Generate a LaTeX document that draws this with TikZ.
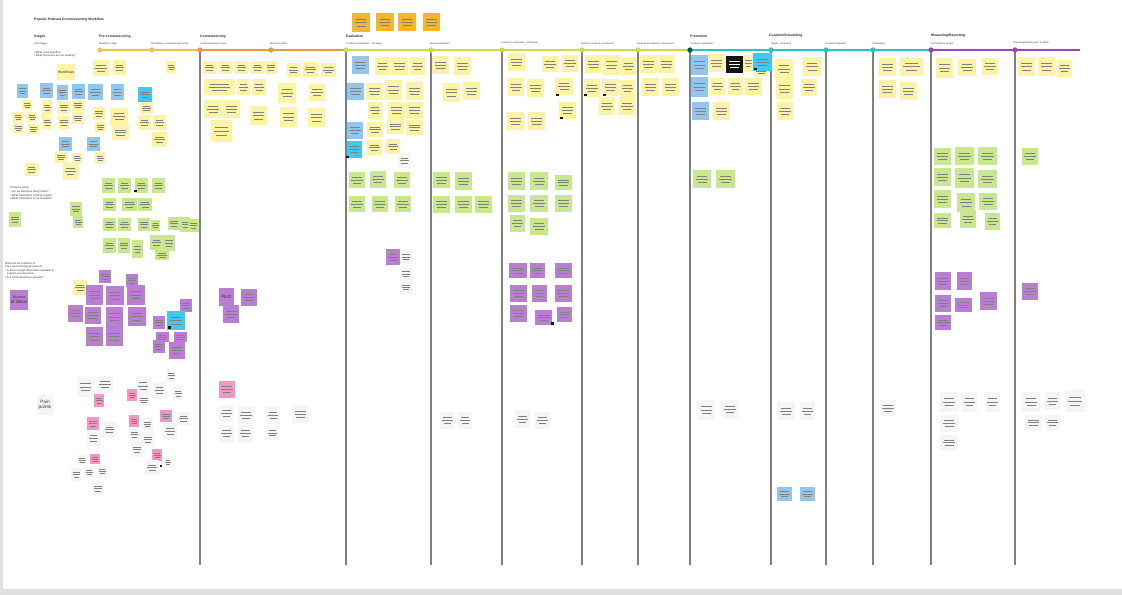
\documentclass[tikz,border=0pt]{standalone}
\usepackage{fontspec}
\setmainfont{Liberation Sans}
\usetikzlibrary{shadows}
\definecolor{yel}{HTML}{FCF3A6}
\definecolor{grn}{HTML}{C9E78E}
\definecolor{blu}{HTML}{93C6EE}
\definecolor{cyn}{HTML}{3FC8F0}
\definecolor{pur}{HTML}{B97ED2}
\definecolor{pnk}{HTML}{F197C2}
\definecolor{wht}{HTML}{F5F5F5}
\definecolor{org}{HTML}{F6B52E}
\definecolor{blk}{HTML}{141414}
\definecolor{lpre}{HTML}{F3BF45}
\definecolor{lcom}{HTML}{EF9440}
\definecolor{leva}{HTML}{CADB4E}
\definecolor{lpro}{HTML}{2CC2C9}
\definecolor{lmea}{HTML}{A53FB5}
\tikzset{
  shd/.style={drop shadow={opacity=0.25,shadow xshift=0.15pt,shadow yshift=-0.4pt}},
  scrib/.style={line width=0.4pt},
  lbl/.style={inner sep=0pt,anchor=base west,font=\fontsize{2.1}{2.5}\selectfont,text=black!75},
  phase/.style={inner sep=0pt,anchor=base west,font=\bfseries\fontsize{2.9}{3.4}\selectfont,text=black!85},
  note/.style={inner sep=0pt,anchor=north west,align=left,font=\fontsize{2.3}{3}\selectfont,text=black!80},
  big/.style={inner sep=0pt,align=center,font=\fontsize{4}{4.6}\selectfont,text=black!80},
  divider/.style={draw=black!50,line width=0.9pt},
  tdot/.style={circle,inner sep=0pt,minimum size=4.5pt}
}
\newcommand\sn[6][black!50]{%
  \fill[#2,shd] (#3,#4) rectangle ++(#5,#6);
  \draw[scrib,#1] ({#3+0.2*#5},{#4+0.32*#6}) -- ++({0.6*#5},0)
                  ({#3+0.15*#5},{#4+0.5*#6}) -- ++({0.7*#5},0)
                  ({#3+0.25*#5},{#4+0.68*#6}) -- ++({0.5*#5},0);
}
\newcommand\tn[7]{%
  \fill[#2,shd] (#3,#4) rectangle ++(#5,#6);
  \node[big] (#1) at ({#3+0.5*#5},{#4+0.5*#6}) {#7};
}
\begin{document}
\begin{tikzpicture}[x=0.03cm,y=-0.03cm]
\useasboundingbox (0,0) rectangle (1122,595);
\fill[black!12] (0,0) rectangle (1122,595);
\fill[white] (3,0) rectangle (1122,589);

% ---------- headings ----------
\node[phase] (title) at (34,21) {Popular Podcast Commissioning Workflow};
\node[phase] (stages) at (34,38) {Stages};
\node[lbl] (substages) at (34,45) {Sub-Stages};
\node[note] (q1) at (34,51) {• What is the workflow\\• What processes are we seeking?};

\node[phase] (p1) at (99,38) {Pre-commissioning};
\node[phase] (p2) at (200,38) {Commissioning};
\node[phase] (p3) at (346,38) {Evaluation};
\node[phase] (p4) at (690,38) {Promotion};
\node[phase] (p5) at (769,37) {Curation/Scheduling};
\node[phase] (p6) at (931,37) {Measuring/Reporting};

\node[lbl] (s1) at (99,45) {Idea/pitch stage};
\node[lbl] (s2) at (151,45) {Shortlisting / commissioned to test};
\node[lbl] (s3) at (200,45) {Commissioning process};
\node[lbl] (s4) at (270,45) {Ideas accepted};
\node[lbl] (s5) at (346,45) {Content in evaluation - 1st Stage};
\node[lbl] (s6) at (430,45) {Idea development};
\node[lbl] (s7) at (501,44) {Content in evaluation - 2nd Stage};
\node[lbl] (s8) at (581,45) {Decision made to commission};
\node[lbl] (s9) at (637,45) {Podcast accepted for commission};
\node[lbl] (s10) at (690,45) {Content in production};
\node[lbl] (s11) at (771,45) {Shape / marketing};
\node[lbl] (s12) at (825,45) {Content scheduled};
\node[lbl] (s13) at (872,45) {Scheduling};
\node[lbl] (s14) at (931,45) {Performance review};
\node[lbl] (s15) at (1013,44) {Reporting/Feeding back to editor};

% ---------- timeline ----------
\coordinate (t0) at (98,50);
\coordinate (tA) at (200,50);
\coordinate (tB) at (346,50);
\coordinate (tC) at (690,50);
\coordinate (tD) at (931,50);
\coordinate (tE) at (1080,50);
\draw[lpre,line width=1.3pt] (t0) -- (tA);
\draw[lcom,line width=1.3pt] (tA) -- (tB);
\draw[leva,line width=1.3pt] (tB) -- (tC);
\draw[lpro,line width=1.3pt] (tC) -- (tD);
\draw[lmea,line width=1.3pt] (tD) -- (tE);

\foreach \n/\x in {3/200,5/346,6/431,7/502,8/582,9/638,10/690,11/771,12/826,13/873,14/931,15/1015}{
  \coordinate (v\n) at (\x,565);
}
\foreach \n/\x in {3/200,5/346,6/431,7/502,8/582,9/638,10/690,11/771,12/826,13/873,14/931,15/1015}{
  \draw[divider] (\x,50) -- (v\n);
}
\node[tdot,fill=lpre] (d1) at (100,50) {};
\node[tdot,fill=lpre] (d2) at (152,50) {};
\node[tdot,fill=lcom] (d3) at (200,50) {};
\node[tdot,fill=lcom] (d4) at (271,50) {};
\node[tdot,fill=leva] (d5) at (346,50) {};
\node[tdot,fill=leva] (d6) at (431,50) {};
\node[tdot,fill=leva] (d7) at (502,50) {};
\node[tdot,fill=leva] (d8) at (582,50) {};
\node[tdot,fill=leva] (d9) at (638,50) {};
\node[tdot,fill=teal!70!black] (d10) at (690,50) {};
\node[tdot,fill=lpro] (d11) at (771,50) {};
\node[tdot,fill=lpro] (d12) at (826,50) {};
\node[tdot,fill=lpro] (d13) at (873,50) {};
\node[tdot,fill=lmea] (d14) at (931,50) {};
\node[tdot,fill=lmea] (d15) at (1015,50) {};

% ---------- orange notes (top) ----------
\sn{org}{352}{13}{18}{19}
\sn{org}{376}{13}{18}{18}
\sn{org}{398}{13}{18}{18}
\sn{org}{423}{13}{17}{18}

% ---------- pre-commissioning ----------
\sn{yel}{93}{60}{16}{16}
\sn{yel}{113}{60}{13}{15}
\sn{yel}{166}{61}{10}{12}
\tn{wf}{yel}{57}{64}{18}{16}{\fontsize{3}{3.5}\selectfont Workflows}
\sn{blu}{17}{84}{11}{14}
\sn{blu}{40}{83}{13}{15}
\sn{blu}{57}{85}{11}{15}
\sn{blu}{72}{84}{13}{15}
\sn{blu}{88}{84}{15}{16}
\sn{blu}{111}{84}{13}{16}
\sn{cyn}{138}{87}{14}{15}
\sn{yel}{22}{100}{10}{10}
\sn{yel}{13}{112}{10}{10}
\sn{yel}{27}{112}{10}{10}
\sn{yel}{13}{123}{11}{10}
\sn{yel}{28}{124}{11}{10}
\sn{yel}{42}{100}{10}{15}
\sn{yel}{42}{116}{10}{13}
\sn{yel}{58}{101}{12}{13}
\sn{yel}{58}{116}{12}{13}
\sn{yel}{72}{100}{12}{11}
\sn{yel}{72}{112}{12}{12}
\sn{yel}{93}{107}{12}{13}
\sn{yel}{95}{122}{11}{10}
\sn{yel}{110}{108}{18}{17}
\sn{yel}{112}{125}{17}{15}
\sn{yel}{140}{102}{13}{12}
\sn{yel}{138}{115}{13}{15}
\sn{yel}{153}{115}{13}{15}
\sn{yel}{152}{132}{15}{15}
\sn{blu}{59}{137}{13}{14}
\sn{blu}{87}{137}{13}{14}
\sn{yel}{55}{152}{12}{11}
\sn{yel}{72}{153}{10}{10}
\sn{yel}{95}{152}{10}{12}
\sn{yel}{25}{163}{13}{13}
\sn{yel}{63}{163}{15}{17}

\node[note] (routing) at (10,186) {Content routing\\[1pt]• Are we decisions being made?\\• What information is being sought?\\• What information is not available?};
\sn{grn}{102}{178}{13}{15}
\sn{grn}{118}{178}{13}{15}
\sn{grn}{135}{178}{13}{15}
\fill[blk] (134,190) rectangle ++(2.5,2.5);
\sn{grn}{152}{178}{13}{15}
\sn{grn}{103}{198}{13}{13}
\sn{grn}{122}{198}{15}{13}
\sn{grn}{138}{198}{14}{13}
\sn{grn}{70}{202}{12}{14}
\sn{grn}{73}{216}{10}{12}
\sn{grn}{9}{212}{12}{15}
\sn{grn}{103}{218}{13}{13}
\sn{grn}{118}{218}{13}{13}
\sn{grn}{138}{218}{12}{13}
\sn{grn}{151}{220}{9}{11}
\sn{grn}{168}{217}{12}{13}
\sn{grn}{180}{217}{10}{15}
\sn{grn}{188}{219}{11}{13}
\sn{grn}{103}{238}{13}{15}
\sn{grn}{118}{238}{12}{15}
\sn{grn}{132}{240}{11}{18}
\sn{grn}{150}{235}{13}{15}
\sn{grn}{163}{235}{12}{16}
\sn{grn}{155}{250}{14}{10}

\node[note] (problems) at (5,262) {What are the problems in\\Pre-commissioning processes?\\• Is there enough information available to\\\hphantom{• }support your decisions\\• Is it commissioning in general?};
\tn{src}{pur}{10}{290}{18}{20}{\fontsize{3}{3.5}\selectfont Sources\\of ideas}
\sn{yel}{73}{280}{14}{15}
\sn{pur}{99}{270}{12}{13}
\sn{pur}{126}{274}{12}{13}
\sn{pur}{86}{285}{17}{20}
\sn{pur}{106}{286}{18}{19}
\sn{pur}{127}{285}{18}{20}
\sn{pur}{68}{305}{15}{17}
\sn{pur}{85}{307}{16}{17}
\sn{pur}{106}{307}{17}{20}
\sn{pur}{128}{307}{18}{19}
\sn{pur}{180}{299}{12}{13}
\sn{cyn}{167}{311}{18}{19}
\fill[blk] (168,326) rectangle ++(2.5,2.5);
\sn{pur}{153}{316}{12}{13}
\sn{pur}{86}{327}{17}{19}
\sn{pur}{106}{327}{17}{19}
\sn{pur}{156}{332}{13}{10}
\sn{pur}{174}{332}{13}{10}
\sn{pur}{153}{340}{12}{13}
\sn{pur}{169}{342}{16}{17}

\sn{wht}{77}{377}{17}{20}
\sn{wht}{97}{376}{16}{17}
\sn{wht}{136}{376}{14}{20}
\sn{wht}{153}{382}{13}{17}
\sn{wht}{166}{369}{10}{13}
\sn{wht}{173}{387}{10}{13}
\tn{pain}{wht}{37}{395}{16}{20}{Pain\\points}
\sn{pnk}{94}{394}{10}{13}
\sn{pnk}{127}{389}{10}{12}
\sn{wht}{138}{394}{12}{12}
\sn{pnk}{87}{417}{12}{13}
\sn{wht}{87}{430}{13}{17}
\sn{wht}{103}{422}{13}{15}
\sn{pnk}{129}{415}{10}{12}
\sn{wht}{129}{428}{11}{13}
\sn{wht}{142}{418}{11}{12}
\sn{wht}{131}{442}{12}{15}
\sn{wht}{142}{432}{12}{15}
\sn{pnk}{160}{410}{12}{12}
\sn{wht}{163}{423}{14}{17}
\sn{wht}{177}{412}{13}{13}
\sn{wht}{77}{455}{10}{10}
\sn{pnk}{90}{454}{10}{10}
\sn{wht}{71}{468}{11}{13}
\sn{wht}{84}{467}{10}{10}
\sn{wht}{97}{465}{10}{12}
\sn{pnk}{152}{449}{10}{12}
\sn{wht}{145}{460}{14}{15}
\fill[blk] (160,465) rectangle ++(2,2);
\sn{wht}{164}{457}{8}{10}
\sn{wht}{92}{482}{12}{13}

% ---------- commissioning ----------
\sn{yel}{203}{61}{13}{13}
\sn{yel}{219}{61}{13}{13}
\sn{yel}{235}{61}{13}{13}
\sn{yel}{251}{61}{13}{13}
\sn{yel}{265}{61}{12}{13}
\sn{yel}{287}{63}{13}{14}
\sn{yel}{303}{62}{15}{15}
\sn{yel}{321}{63}{15}{14}
\sn{yel}{204}{79}{31}{16}
\sn{yel}{237}{79}{13}{16}
\sn{yel}{252}{79}{14}{16}
\sn{yel}{278}{83}{18}{20}
\sn{yel}{309}{84}{16}{17}
\sn{yel}{204}{100}{18}{18}
\sn{yel}{223}{100}{17}{18}
\sn{yel}{250}{106}{17}{19}
\sn{yel}{280}{107}{17}{20}
\sn{yel}{308}{108}{17}{19}
\sn{yel}{211}{120}{21}{22}
\tn{pitch}{pur}{219}{288}{15}{18}{Pitch}
\sn{pur}{241}{289}{16}{17}
\sn{pur}{223}{305}{16}{18}
\sn{pnk}{219}{381}{16}{17}
\sn{wht}{219}{405}{15}{17}
\sn{wht}{238}{407}{16}{17}
\sn{wht}{219}{425}{15}{17}
\sn{wht}{238}{425}{15}{17}
\sn{wht}{266}{407}{14}{17}
\sn{wht}{266}{426}{13}{14}
\sn{wht}{292}{405}{17}{18}

% ---------- evaluation 1st stage ----------
\sn{blu}{352}{56}{17}{18}
\sn{yel}{375}{57}{15}{18}
\sn{yel}{391}{57}{17}{18}
\sn{yel}{410}{57}{15}{18}
\sn{blu}{347}{83}{17}{17}
\sn{yel}{366}{83}{17}{17}
\sn{yel}{385}{80}{17}{20}
\sn{yel}{406}{82}{17}{18}
\sn{yel}{368}{102}{14}{17}
\sn{yel}{388}{102}{17}{17}
\sn{yel}{406}{102}{17}{17}
\sn{blu}{347}{122}{16}{17}
\sn{yel}{367}{122}{16}{15}
\sn{yel}{387}{119}{17}{15}
\sn{yel}{406}{120}{17}{15}
\sn{cyn}{347}{141}{15}{17}
\fill[blk] (346,156) rectangle ++(2.5,2.5);
\sn{yel}{367}{140}{15}{15}
\sn{yel}{386}{139}{14}{15}
\sn{wht}{398}{153}{13}{15}
\sn{grn}{349}{172}{16}{16}
\sn{grn}{370}{171}{16}{17}
\sn{grn}{394}{172}{16}{16}
\sn{grn}{349}{196}{16}{16}
\sn{grn}{372}{196}{16}{16}
\sn{grn}{395}{196}{16}{16}
\sn{pur}{386}{249}{14}{16}
\sn{wht}{400}{250}{12}{14}
\sn{wht}{400}{267}{12}{14}
\sn{wht}{400}{282}{12}{11}

% ---------- idea development ----------
\sn{yel}{432}{56}{17}{18}
\sn{yel}{454}{57}{17}{18}
\sn{yel}{443}{83}{17}{19}
\sn{yel}{463}{82}{17}{18}
\sn{grn}{433}{172}{17}{16}
\sn{grn}{455}{172}{17}{18}
\sn{grn}{433}{196}{17}{17}
\sn{grn}{455}{196}{17}{17}
\sn{grn}{475}{196}{17}{17}
\sn{wht}{440}{412}{15}{17}
\sn{wht}{458}{412}{14}{17}

% ---------- evaluation 2nd stage ----------
\sn{yel}{508}{53}{17}{18}
\sn{yel}{542}{56}{16}{16}
\sn{yel}{562}{55}{16}{17}
\sn{yel}{508}{78}{16}{18}
\sn{yel}{527}{79}{17}{18}
\sn{yel}{555}{78}{18}{17}
\fill[blk] (556,94) rectangle ++(2.5,2.5);
\sn{yel}{559}{102}{17}{17}
\fill[blk] (560,117) rectangle ++(2.5,2.5);
\sn{yel}{507}{112}{17}{18}
\sn{yel}{528}{112}{17}{18}
\sn{grn}{508}{172}{17}{18}
\sn{grn}{530}{172}{18}{18}
\sn{grn}{555}{175}{17}{15}
\sn{grn}{508}{195}{17}{17}
\sn{grn}{530}{195}{18}{17}
\sn{grn}{555}{195}{17}{17}
\sn{grn}{510}{215}{15}{17}
\sn{grn}{530}{218}{18}{17}
\sn{pur}{509}{263}{18}{15}
\sn{pur}{530}{263}{15}{15}
\sn{pur}{555}{263}{17}{15}
\sn{pur}{510}{285}{17}{17}
\sn{pur}{532}{285}{15}{17}
\sn{pur}{555}{285}{17}{17}
\sn{pur}{510}{305}{17}{17}
\sn{pur}{535}{310}{17}{15}
\fill[blk] (551,322) rectangle ++(2.5,2.5);
\sn{pur}{557}{307}{15}{15}
\sn{wht}{515}{410}{15}{18}
\sn{wht}{535}{412}{15}{17}

% ---------- decision made ----------
\sn{yel}{585}{55}{17}{18}
\sn{yel}{603}{55}{17}{20}
\sn{yel}{621}{57}{15}{18}
\sn{yel}{584}{79}{16}{18}
\fill[blk] (584,94) rectangle ++(2.5,2.5);
\sn{yel}{602}{79}{17}{17}
\fill[blk] (603,94) rectangle ++(2.5,2.5);
\sn{yel}{620}{80}{15}{17}
\sn{yel}{599}{97}{16}{18}
\sn{yel}{619}{97}{16}{18}

% ---------- podcast accepted ----------
\sn{yel}{640}{55}{17}{18}
\sn{yel}{658}{55}{17}{18}
\sn{yel}{642}{78}{17}{18}
\sn{yel}{662}{78}{17}{18}

% ---------- promotion ----------
\sn{blu}{691}{55}{17}{20}
\sn{yel}{708}{54}{17}{18}
\sn[white!80]{blk}{726}{56}{17}{17}
\sn{yel}{743}{55}{11}{17}
\sn{yel}{754}{66}{14}{10}
\sn{cyn}{753}{53}{19}{18}
\fill[blk] (754,68) rectangle ++(2.5,2.5);
\sn{blu}{691}{77}{17}{20}
\sn{yel}{710}{78}{15}{17}
\sn{yel}{728}{78}{15}{17}
\sn{yel}{745}{78}{17}{17}
\sn{blu}{692}{102}{17}{18}
\sn{yel}{713}{102}{17}{18}
\sn{grn}{693}{170}{18}{18}
\sn{grn}{716}{170}{19}{18}
\sn{wht}{698}{400}{17}{20}
\sn{wht}{722}{400}{16}{18}

% ---------- curation / scheduling ----------
\sn{yel}{775}{59}{18}{20}
\sn{yel}{803}{57}{18}{19}
\sn{yel}{776}{79}{17}{20}
\sn{yel}{801}{79}{16}{17}
\sn{yel}{777}{102}{16}{18}
\sn{wht}{777}{402}{18}{18}
\sn{wht}{800}{402}{15}{18}
\sn{blu}{777}{487}{15}{14}
\sn{blu}{800}{487}{15}{14}
\sn{yel}{879}{58}{17}{18}
\sn{yel}{900}{57}{23}{19}
\sn{yel}{879}{80}{17}{18}
\sn{yel}{900}{82}{17}{18}
\sn{wht}{880}{400}{16}{16}

% ---------- measuring / reporting ----------
\sn{yel}{936}{58}{17}{20}
\sn{yel}{958}{59}{18}{17}
\sn{yel}{982}{58}{16}{17}
\sn{grn}{934}{148}{17}{17}
\sn{grn}{955}{147}{19}{18}
\sn{grn}{978}{147}{19}{18}
\sn{grn}{934}{168}{17}{18}
\sn{grn}{955}{168}{19}{20}
\sn{grn}{978}{170}{19}{18}
\sn{grn}{934}{190}{17}{18}
\sn{grn}{957}{193}{18}{19}
\sn{grn}{979}{193}{18}{17}
\sn{grn}{934}{213}{17}{15}
\sn{grn}{960}{210}{16}{18}
\sn{grn}{985}{213}{15}{17}
\sn{pur}{935}{272}{16}{18}
\sn{pur}{957}{272}{15}{18}
\sn{pur}{980}{292}{17}{18}
\sn{pur}{935}{295}{16}{17}
\sn{pur}{955}{298}{17}{14}
\sn{pur}{935}{315}{16}{15}
\sn{wht}{940}{392}{18}{20}
\sn{wht}{962}{392}{15}{20}
\sn{wht}{985}{392}{15}{20}
\sn{wht}{940}{415}{18}{17}
\sn{wht}{940}{435}{18}{15}
\sn{yel}{1018}{57}{17}{19}
\sn{yel}{1038}{57}{17}{19}
\sn{yel}{1057}{60}{15}{17}
\sn{grn}{1022}{148}{16}{17}
\sn{pur}{1022}{283}{16}{17}
\sn{wht}{1022}{392}{18}{20}
\sn{wht}{1045}{392}{15}{18}
\sn{wht}{1065}{390}{20}{22}
\sn{wht}{1025}{415}{17}{15}
\sn{wht}{1045}{415}{15}{15}
\end{tikzpicture}
\end{document}
